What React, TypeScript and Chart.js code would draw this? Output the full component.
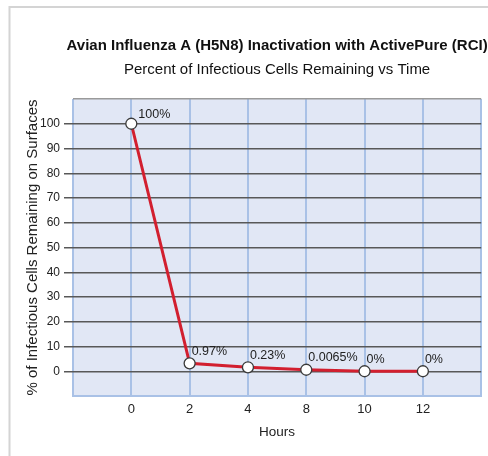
import React, { useEffect, useRef } from 'react';
import { Chart, registerables } from 'chart.js';

Chart.register(...registerables);

const hours: string[] = ['', '0', '2', '4', '8', '10', '12', ''];
const plotted: (number | null)[] = [null, 100, 3.2, 1.6, 0.6, 0, 0, null];
const pointLabels: string[] = ['', '100%', '0.97%', '0.23%', '0.0065%', '0%', '0%', ''];
const yTickValues: number[] = [0, 10, 20, 30, 40, 50, 60, 70, 80, 90, 100];
const titleText = 'Avian Influenza A (H5N8) Inactivation with ActivePure (RCI)';
const subtitleText = 'Percent of Infectious Cells Remaining vs Time';
const yTitle = '% of Infectious Cells Remaining on Surfaces';
const xTitle = 'Hours';

const FONT = "'Liberation Sans', Arial, sans-serif";

const decorPlugin = {
  id: 'decor',
  beforeDraw(chart: any) {
    const { ctx, chartArea } = chart;
    ctx.save();
    ctx.fillStyle = '#ffffff';
    ctx.fillRect(0, 0, chart.width, chart.height);
    // outer frame (top & left)
    ctx.strokeStyle = '#d4d4d4';
    ctx.lineWidth = 2;
    ctx.beginPath();
    ctx.moveTo(9.5, chart.height);
    ctx.lineTo(9.5, 7);
    ctx.lineTo(chart.width, 7);
    ctx.stroke();
    // plot background
    ctx.fillStyle = '#e1e7f5';
    ctx.fillRect(chartArea.left, chartArea.top, chartArea.right - chartArea.left, chartArea.bottom - chartArea.top);
    // titles
    const cx = (chartArea.left + chartArea.right) / 2;
    ctx.fillStyle = '#111111';
    ctx.textAlign = 'center';
    ctx.textBaseline = 'middle';
    ctx.font = `bold 15px ${FONT}`;
    ctx.fillText(titleText, cx, 46);
    ctx.font = `15px ${FONT}`;
    ctx.fillText(subtitleText, cx, 70);
    ctx.restore();
  },
  afterDatasetsDraw(chart: any) {
    const { ctx } = chart;
    const meta = chart.getDatasetMeta(0);
    ctx.save();
    ctx.fillStyle = '#222222';
    ctx.font = `12.5px ${FONT}`;
    ctx.textAlign = 'left';
    ctx.textBaseline = 'middle';
    meta.data.forEach((pt: any, i: number) => {
      const txt = pointLabels[i];
      if (!txt || plotted[i] === null) return;
      const dx = i === 1 ? 7 : 2;
      const dy = i === 1 ? -9 : -12;
      ctx.fillText(txt, pt.x + dx, pt.y + dy);
    });
    ctx.restore();
  },
};

export default function App() {
  const canvasRef = useRef<HTMLCanvasElement | null>(null);

  useEffect(() => {
    if (!canvasRef.current) return;
    const chart = new Chart(canvasRef.current, {
      type: 'line',
      data: {
        labels: hours,
        datasets: [
          {
            data: plotted,
            borderColor: '#d21f2f',
            borderWidth: 3,
            pointRadius: 5.5,
            pointBackgroundColor: '#ffffff',
            pointBorderColor: '#3a3a3a',
            pointBorderWidth: 1.3,
            tension: 0,
            fill: false,
          },
        ],
      },
      options: {
        responsive: false,
        animation: false,
        events: [],
        layout: { padding: { top: 99, right: 6, left: 0, bottom: 0 } },
        plugins: {
          legend: { display: false },
          tooltip: { enabled: false },
          title: { display: false },
        },
        scales: {
          x: {
            type: 'category',
            offset: false,
            afterFit: (scale: any) => {
              scale.height = 60;
            },
            grid: {
              color: '#a9c1e6',
              lineWidth: 2,
              drawTicks: false,
            },
            border: { display: true, color: '#a9c1e6', width: 2 },
            ticks: {
              color: '#222222',
              font: { family: FONT, size: 13 },
              padding: 6,
              maxRotation: 0,
              autoSkip: false,
            },
            title: {
              display: true,
              text: xTitle,
              color: '#222222',
              font: { family: FONT, size: 13.5 },
              padding: { top: 0, bottom: 16 },
            },
          },
          y: {
            min: -10,
            max: 110,
            afterFit: (scale: any) => {
              scale.width = 73;
            },
            afterBuildTicks: (scale: any) => {
              scale.ticks = [-10, ...yTickValues, 110].map((v) => ({ value: v }));
            },
            grid: {
              color: (c: any) => {
                const v = c.tick ? c.tick.value : 0;
                if (v === -10) return 'rgba(0,0,0,0)';
                if (v === 110) return '#9a9a9a';
                return '#585858';
              },
              tickColor: (c: any) => {
                const v = c.tick ? c.tick.value : 0;
                if (v === -10 || v === 110) return 'rgba(0,0,0,0)';
                return '#585858';
              },
              lineWidth: 1.5,
              tickLength: 9,
            },
            border: { display: false },
            ticks: {
              color: '#222222',
              font: { family: FONT, size: 12 },
              padding: 4,
              callback: (v: any) => (yTickValues.includes(Number(v)) ? String(v) : ''),
            },
            title: {
              display: true,
              text: yTitle,
              color: '#222222',
              font: { family: FONT, size: 15 },
              padding: { top: 24, bottom: 0 },
            },
          },
        },
      },
      plugins: [decorPlugin],
    });
    return () => chart.destroy();
  }, []);

  return (
    <div style={{ position: 'fixed', left: 0, top: 0, width: 488, height: 456, background: '#fff' }}>
      <canvas ref={canvasRef} width={488} height={456} style={{ display: 'block' }} />
    </div>
  );
}
